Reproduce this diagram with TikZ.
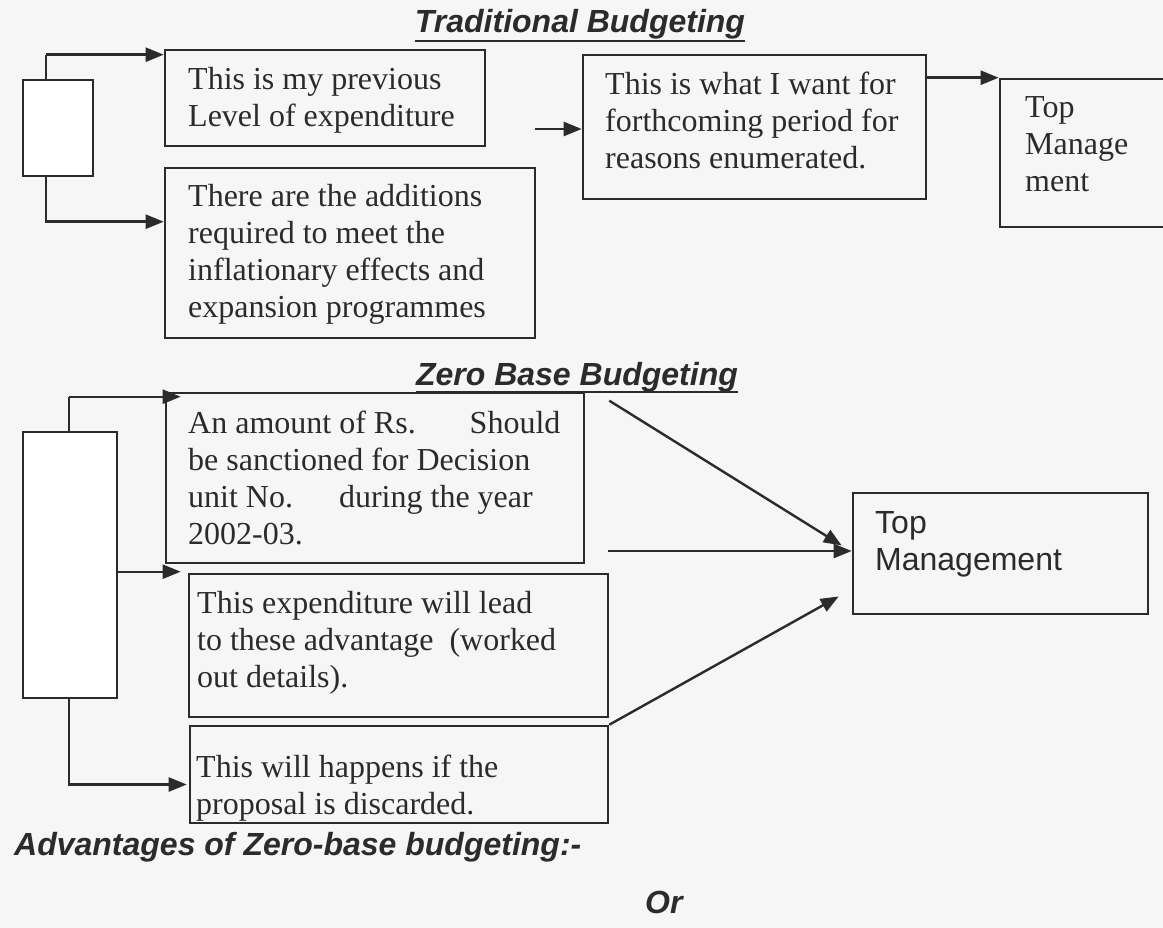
\documentclass[tikz,border=0pt]{standalone}
\usepackage{fontspec}
\setmainfont{Liberation Serif}
\newfontfamily\arialfont{Liberation Sans}
\usetikzlibrary{arrows.meta,fit}

\definecolor{ink}{HTML}{2B2B2B}
\definecolor{paper}{HTML}{F6F6F6}

% multi-line text whose baseline is the first line
\newcommand{\mlines}[1]{\parbox[t]{560pt}{\raggedright #1}}

\tikzset{
  boxed/.style={draw=ink, line width=2.6pt, inner sep=0pt},
  sidebox/.style={boxed, fill=white},
  txt/.style={anchor=base west, inner sep=0pt, text=ink,
              font=\fontsize{32}{37}\selectfont},
  sanstxt/.style={txt, font=\arialfont\fontsize{32}{37}\selectfont},
  heading/.style={anchor=base, inner sep=0pt, text=ink,
                  font=\arialfont\bfseries\itshape\fontsize{32}{37}\selectfont},
  subheading/.style={heading, anchor=base west},
  link/.style={draw=ink, line width=2.4pt, -{Triangle[length=18pt,width=14pt]}},
  rule/.style={draw=ink, line width=2.4pt},
}

\begin{document}
\begin{tikzpicture}[x=1pt, y=-1pt]
  \fill[paper] (0,0) rectangle (1163,928);
  \useasboundingbox (0,0) rectangle (1163,928);

  % ---------------- Traditional budgeting ----------------
  \node[heading] (title1) at (580,33) {Traditional Budgeting};
  \draw[rule] ([yshift=-8pt]title1.base west) -- ([yshift=-8pt]title1.base east);

  \coordinate (j1) at (46,0);
  \node[boxed, fit={(165,50)(485,146)}] (prev) {};
  \node[boxed, fit={(165,168)(535,338)}] (add) {};
  \node[boxed, fit={(583,55)(926,199)}] (want) {};
  \node[boxed, fit={(1000,79)(1178,227)}] (top1) {};

  \coordinate (prevIn) at ([yshift=-6pt]prev.north west);
  \coordinate (addIn) at ([yshift=-55pt]add.north west);
  \draw[link] (j1 |- prevIn) -- (prevIn);
  \draw[link] (j1 |- prevIn) -- (j1 |- addIn) -- (addIn);
  \node[sidebox, fit={(23,80)(93,176)}] (src1) {};

  \coordinate (wantFrom) at (535,129);
  \draw[link] (wantFrom) -- (wantFrom -| want.west);
  \draw[link] (top1.north west -| want.east) -- (top1.north west);

  \node[txt] (prevT) at (188,90) {\mlines{This is my previous\\Level of expenditure}};
  \node[txt] (addT) at (188,207) {\mlines{There are the additions\\required to meet the\\inflationary effects and\\expansion programmes}};
  \node[txt] (wantT) at (605,95) {\mlines{This is what I want for\\forthcoming period for\\reasons enumerated.}};
  \node[txt] (top1T) at (1025,118) {\mlines{Top\\Manage\\ment}};

  % ---------------- Zero base budgeting ----------------
  \node[heading] (title2) at (577,385) {Zero Base Budgeting};
  \draw[rule] ([yshift=-7pt]title2.base west) -- ([yshift=-7pt]title2.base east);

  \coordinate (j2) at (69,0);
  \node[boxed, fit={(166,393)(584,563)}] (amount) {};
  \node[boxed, fit={(189,574)(608,717)}] (gain) {};
  \node[boxed, fit={(190,726)(608,823)}] (drop) {};
  \node[boxed, fit={(853,493)(1148,614)}] (top2) {};

  \coordinate (amountIn) at ([xshift=16pt,yshift=-5pt]amount.north west);
  \coordinate (gainIn) at ([xshift=-7pt,yshift=1pt]gain.north west);
  \coordinate (dropIn) at ([xshift=-2pt,yshift=-10pt]drop.west);
  \draw[link] (j2 |- amountIn) -- (amountIn);
  \draw[link] (j2 |- amountIn) -- (j2 |- dropIn) -- (dropIn);
  \node[sidebox, fit={(23,432)(117,698)}] (src2) {};
  \draw[link] (src2.east |- gainIn) -- (gainIn);

  \coordinate (amountOut) at ([xshift=24pt,yshift=-9pt]amount.north east);
  \coordinate (amountMid) at (608,551);
  \draw[link] (amountOut) -- ([xshift=-10pt,yshift=8pt]top2.west);
  \draw[link] (amountMid) -- (amountMid -| top2.west);
  \draw[link] (drop.north east) -- ([xshift=-13pt,yshift=-43pt]top2.west);

  \node[txt] (amountT) at (188,433) {\mlines{An amount of Rs.\hspace{54pt}Should\\be sanctioned for Decision\\unit No.\hspace{46pt}during the year\\2002-03.}};
  \node[txt] (gainT) at (197,613) {\mlines{This expenditure will lead\\to these advantage\ \ (worked\\out details).}};
  \node[txt] (dropT) at (196,777) {\mlines{This will happens if the\\proposal is discarded.}};
  \node[sanstxt] (top2T) at (875,533) {\mlines{Top\\Management}};

  \node[subheading] (adv) at (14,855) {Advantages of Zero-base budgeting:-};
  \node[subheading] (orT) at (645,913) {Or};
\end{tikzpicture}
\end{document}
